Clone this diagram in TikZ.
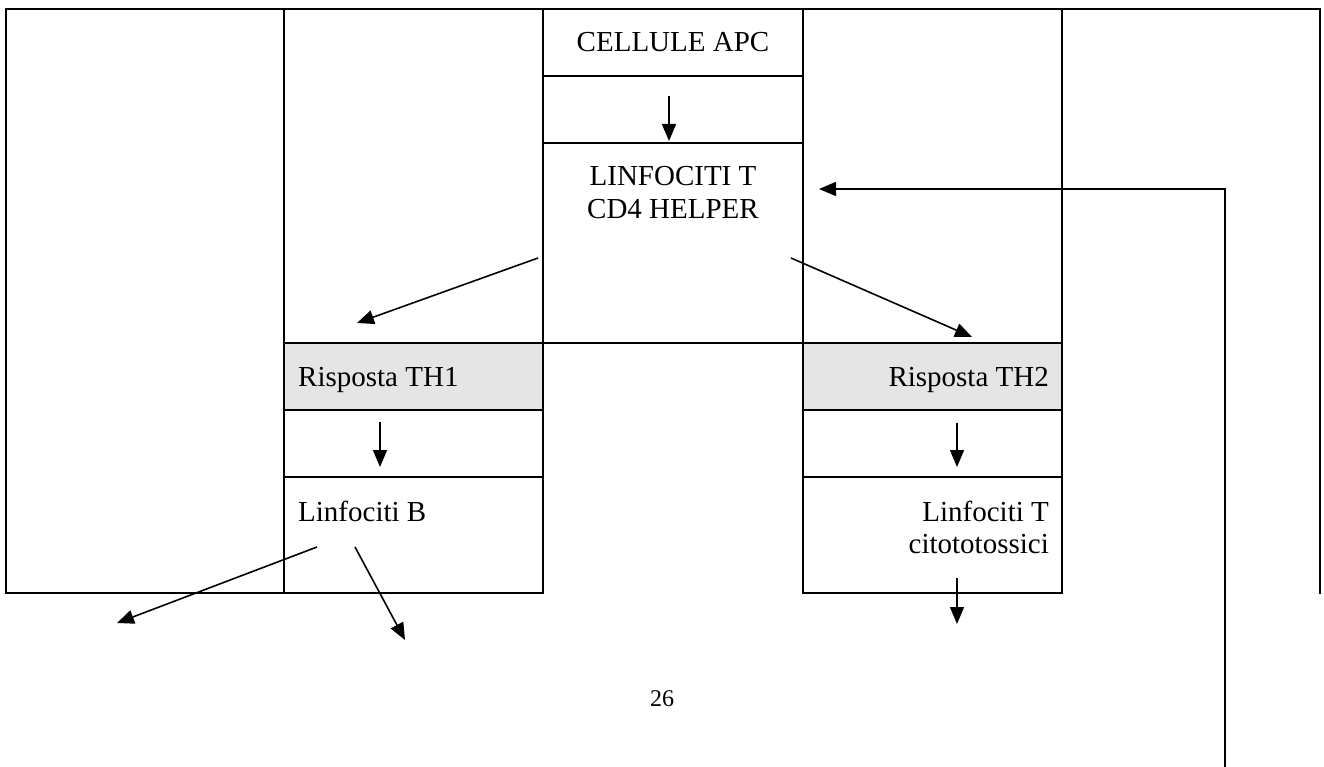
\documentclass[tikz,border=0pt]{standalone}
\usepackage{fontspec}
\setmainfont{Liberation Serif}
\usetikzlibrary{arrows.meta}
\definecolor{cellgray}{RGB}{229,229,229}
\tikzset{
  grid/.style={line width=2.2pt, line cap=rect},
  arr/.style={line width=1.6pt, -{Triangle[length=17pt,width=14pt]}},
  lbl/.style={inner sep=0pt, font=\fontsize{29}{33}\selectfont},
  pagenum/.style={inner sep=0pt, font=\fontsize{24}{28}\selectfont}
}
\begin{document}
\begin{tikzpicture}[x=1pt,y=-1pt]
\useasboundingbox (0,0) rectangle (1324,767);
% shaded cells
\fill[cellgray] (284,343) rectangle (543,410);
\fill[cellgray] (803,343) rectangle (1062,410);
% table rules
\draw[grid] (6,9) -- (1320,9);
\foreach \x in {6,284,543,803,1062,1320} \draw[grid] (\x,9) -- (\x,593);
\draw[grid] (543,76) -- (803,76);
\draw[grid] (543,143) -- (803,143);
\draw[grid] (284,343) -- (1062,343);
\draw[grid] (284,410) -- (543,410);
\draw[grid] (284,477) -- (543,477);
\draw[grid] (803,410) -- (1062,410);
\draw[grid] (803,477) -- (1062,477);
\draw[grid] (6,593) -- (543,593);
\draw[grid] (803,593) -- (1062,593);
% texts
\node[lbl, anchor=base] (apc) at (673,52) {CELLULE APC};
\node[lbl, anchor=base] (cd4a) at (673,186) {LINFOCITI T};
\node[lbl, anchor=base] (cd4b) at (673,219) {CD4 HELPER};
\node[lbl, anchor=base west] (th1) at (298,386) {Risposta TH1};
\node[lbl, anchor=base east] (th2) at (1049,386) {Risposta TH2};
\node[lbl, anchor=base west] (lb) at (298,521) {Linfociti B};
\node[lbl, anchor=base east] (ltc1) at (1049,521) {Linfociti T};
\node[lbl, anchor=base east] (ltc2) at (1049,553) {citototossici};
\node[pagenum, anchor=base] (pg) at (662,706) {26};
% arrow end points
\coordinate (apcS) at (669,96);
\coordinate (apcE) at (669,141);
\coordinate (cdL) at (538,258);
\coordinate (th1T) at (357,323);
\coordinate (cdR) at (791,258);
\coordinate (th2T) at (972,337);
\coordinate (fbS) at (1225,767);
\coordinate (fbC) at (1225,189);
\coordinate (fbE) at (819,189);
\coordinate (th1S) at (380,422);
\coordinate (th1E) at (380,467);
\coordinate (th2S) at (957,423);
\coordinate (th2E) at (957,467);
\coordinate (lbL) at (317,547);
\coordinate (lbLE) at (117,623);
\coordinate (lbR) at (355,547);
\coordinate (lbRE) at (405,640);
\coordinate (ltcS) at (957,578);
\coordinate (ltcE) at (957,624);
% arrows
\draw[arr] (apcS) -- (apcE);
\draw[arr] (cdL) -- (th1T);
\draw[arr] (cdR) -- (th2T);
\draw[arr] (fbS) -- (fbC) -- (fbE);
\draw[arr] (th1S) -- (th1E);
\draw[arr] (th2S) -- (th2E);
\draw[arr] (lbL) -- (lbLE);
\draw[arr] (lbR) -- (lbRE);
\draw[arr] (ltcS) -- (ltcE);
\end{tikzpicture}
\end{document}
